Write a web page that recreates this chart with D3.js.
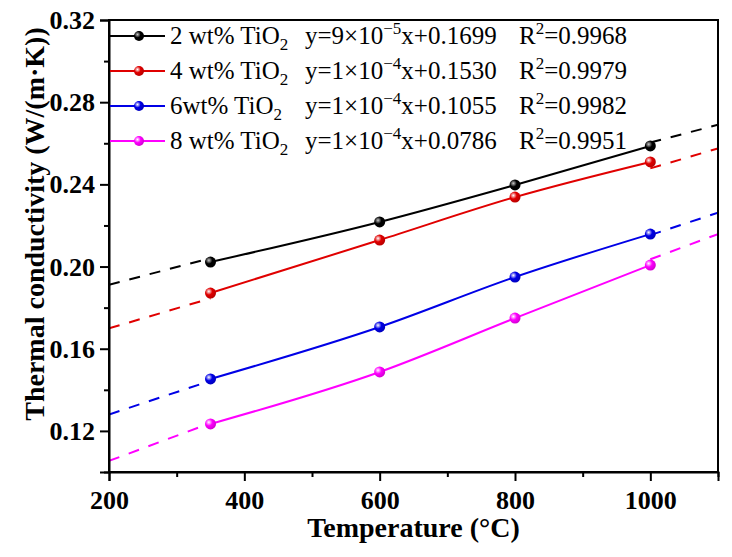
<!DOCTYPE html>
<html>
<head>
<meta charset="utf-8">
<script src="https://cdn.jsdelivr.net/npm/d3@7"></script>
<style>
  body { margin: 0; background: #fff; }
  svg { display: block; }
</style>
</head>
<body>
<div class="chart"></div>
<script>
// data
const temps = [350, 600, 800, 1000];
const tc2wt = [0.2022, 0.2217, 0.2397, 0.2587];
const tc4wt = [0.1871, 0.2129, 0.2338, 0.2509];
const tc6wt = [0.1453, 0.1706, 0.1949, 0.2158];
const tc8wt = [0.1234, 0.1487, 0.1749, 0.2007];

// fitted lines, value at the two ends of the x range
const fitX = [200, 1100];
const fit2wt = [0.1911, 0.2690];
const fit4wt = [0.1699, 0.2575];
const fit6wt = [0.1280, 0.2262];
const fit8wt = [0.1054, 0.2158];

const seriesNames = ['2 wt% TiO', '4 wt% TiO', '6wt% TiO', '8 wt% TiO'];
const slopeMant = ['9', '1', '1', '1'];
const slopeExp = ['\u22125', '\u22124', '\u22124', '\u22124'];
const intercepts = ['0.1699', '0.1530', '0.1055', '0.0786'];
const rSquared = ['0.9968', '0.9979', '0.9982', '0.9951'];
const colors = ['#000000', '#e00000', '#0000e6', '#ff00ff'];

const xTicks = [200, 400, 600, 800, 1000];
const xMinor = [300, 500, 700, 900, 1100];
const yTicks = [0.12, 0.16, 0.20, 0.24, 0.28, 0.32];
const yMinor = [0.10, 0.14, 0.18, 0.22, 0.26, 0.30];

const series = [tc2wt, tc4wt, tc6wt, tc8wt];
const fits = [fit2wt, fit4wt, fit6wt, fit8wt];

const serif = '"Liberation Serif", "Times New Roman", Times, serif';

const W = 732, H = 557;
const margin = { top: 20, left: 109, right: 14, bottom: 85 };
const width = W - margin.left - margin.right;
const height = H - margin.top - margin.bottom;

const svg = d3.select('.chart').append('svg').attr('width', W).attr('height', H);

const x = d3.scaleLinear().domain([200, 1100]).range([0, width]);
const y = d3.scaleLinear().domain([0.10, 0.32]).range([height, 0]);

const defs = svg.append('defs');
defs.append('clipPath').attr('id', 'plotclip')
    .append('rect').attr('width', width).attr('height', height);

colors.forEach(function (c, i) {
    const g = defs.append('radialGradient').attr('id', 'ball' + i)
        .attr('cx', '0.35').attr('cy', '0.35').attr('r', '0.7');
    g.append('stop').attr('offset', '0%').attr('stop-color', i === 0 ? '#c8c8c8' : '#ffffff');
    g.append('stop').attr('offset', '45%').attr('stop-color', c);
    g.append('stop').attr('offset', '100%').attr('stop-color', d3.color(c).darker(0.6));
});

const group = svg.append('g').attr('transform', 'translate(' + margin.left + ', ' + margin.top + ')');
const plot = group.append('g').attr('clip-path', 'url(#plotclip)');

// dashed fit lines, only visible outside the measured range
fits.forEach(function (f, i) {
    const fitLine = d3.scaleLinear().domain(fitX).range(f);
    const ends = [[fitX[0], temps[0]], [temps[temps.length - 1], fitX[1]]];
    ends.forEach(function (e) {
        plot.append('line')
            .attr('x1', x(e[0])).attr('y1', y(fitLine(e[0])))
            .attr('x2', x(e[1])).attr('y2', y(fitLine(e[1])))
            .style('stroke', colors[i]).style('stroke-width', 2)
            .style('stroke-dasharray', '11,10');
    });
});

const line = d3.line()
    .x(function (d, i) { return x(temps[i]); })
    .y(function (d) { return y(d); })
    .curve(d3.curveMonotoneX);

series.forEach(function (s, i) {
    plot.append('path').datum(s).attr('d', line)
        .style('fill', 'none').style('stroke', colors[i]).style('stroke-width', 2);
    plot.selectAll('.pt' + i).data(s).enter().append('circle')
        .attr('cx', function (d, j) { return x(temps[j]); })
        .attr('cy', function (d) { return y(d); })
        .attr('r', 5.5)
        .style('fill', 'url(#ball' + i + ')');
});

// axes
const xAxis = group.append('g').attr('transform', 'translate(0,' + height + ')')
    .call(d3.axisBottom(x).tickValues(xTicks).tickSize(9).tickPadding(4).tickFormat(d3.format('d')));
group.append('g').attr('transform', 'translate(0,' + height + ')')
    .call(d3.axisBottom(x).tickValues(xMinor).tickSize(5).tickFormat(''))
    .select('.domain').remove();
const yAxis = group.append('g')
    .call(d3.axisLeft(y).tickValues(yTicks).tickSize(9).tickPadding(5).tickFormat(d3.format('.2f')));
group.append('g')
    .call(d3.axisLeft(y).tickValues(yMinor).tickSize(5).tickFormat(''))
    .select('.domain').remove();

group.selectAll('.tick line').style('stroke', '#000').style('stroke-width', 2);
group.selectAll('.domain').style('stroke', '#000').style('stroke-width', 2);
[xAxis, yAxis].forEach(function (a) {
    a.selectAll('.tick text')
        .style('font-family', serif)
        .style('font-size', '26px').style('font-weight', 'bold').style('fill', '#000');
});
xAxis.selectAll('.tick text').attr('dy', '0.92em');
yAxis.selectAll('.tick text').attr('dy', '0.33em');

// frame
group.append('rect').attr('width', width).attr('height', height)
    .style('fill', 'none').style('stroke', '#000').style('stroke-width', 2);

// axis titles
svg.append('text')
    .attr('x', margin.left + width / 2).attr('y', 537)
    .attr('text-anchor', 'middle')
    .style('font-family', serif)
    .style('font-size', '28px').style('font-weight', 'bold')
    .text('Temperature (\u00B0C)');
svg.append('text')
    .attr('transform', 'translate(44,224) rotate(-90)')
    .attr('text-anchor', 'middle')
    .style('font-family', serif)
    .style('font-size', '28px').style('font-weight', 'bold')
    .text('Thermal conductivity (W/(m\u00B7K))');

// legend
const legend = group.append('g').attr('class', 'legend');
const rows = legend.selectAll('g').data(seriesNames).enter().append('g')
    .attr('transform', function (d, i) { return 'translate(0,' + (16 + i * 35) + ')'; });

rows.append('line').attr('x1', 1).attr('x2', 56).attr('y1', 0).attr('y2', 0)
    .style('stroke', function (d, i) { return colors[i]; }).style('stroke-width', 2);
rows.append('circle').attr('cx', 30).attr('cy', 0).attr('r', 5)
    .style('fill', function (d, i) { return 'url(#ball' + i + ')'; });

const fs = 25;
const label = rows.append('text').attr('x', 61).attr('y', 8)
    .style('font-family', serif).style('font-size', fs + 'px');
label.append('tspan').text(function (d) { return d; });
label.append('tspan').attr('dy', 6).style('font-size', '17px').text('2');

const eq = rows.append('text').attr('x', 196).attr('y', 8)
    .style('font-family', serif).style('font-size', fs + 'px');
eq.append('tspan').text(function (d, i) { return 'y=' + slopeMant[i] + '\u00D710'; });
eq.append('tspan').attr('dy', -10).style('font-size', '17px').text(function (d, i) { return slopeExp[i]; });
eq.append('tspan').attr('dy', 10).text(function (d, i) { return 'x+' + intercepts[i]; });

const rr = rows.append('text').attr('x', 410).attr('y', 8)
    .style('font-family', serif).style('font-size', fs + 'px');
rr.append('tspan').text('R');
rr.append('tspan').attr('dy', -10).style('font-size', '17px').text('2');
rr.append('tspan').attr('dy', 10).text(function (d, i) { return '=' + rSquared[i]; });
</script>
</body>
</html>
